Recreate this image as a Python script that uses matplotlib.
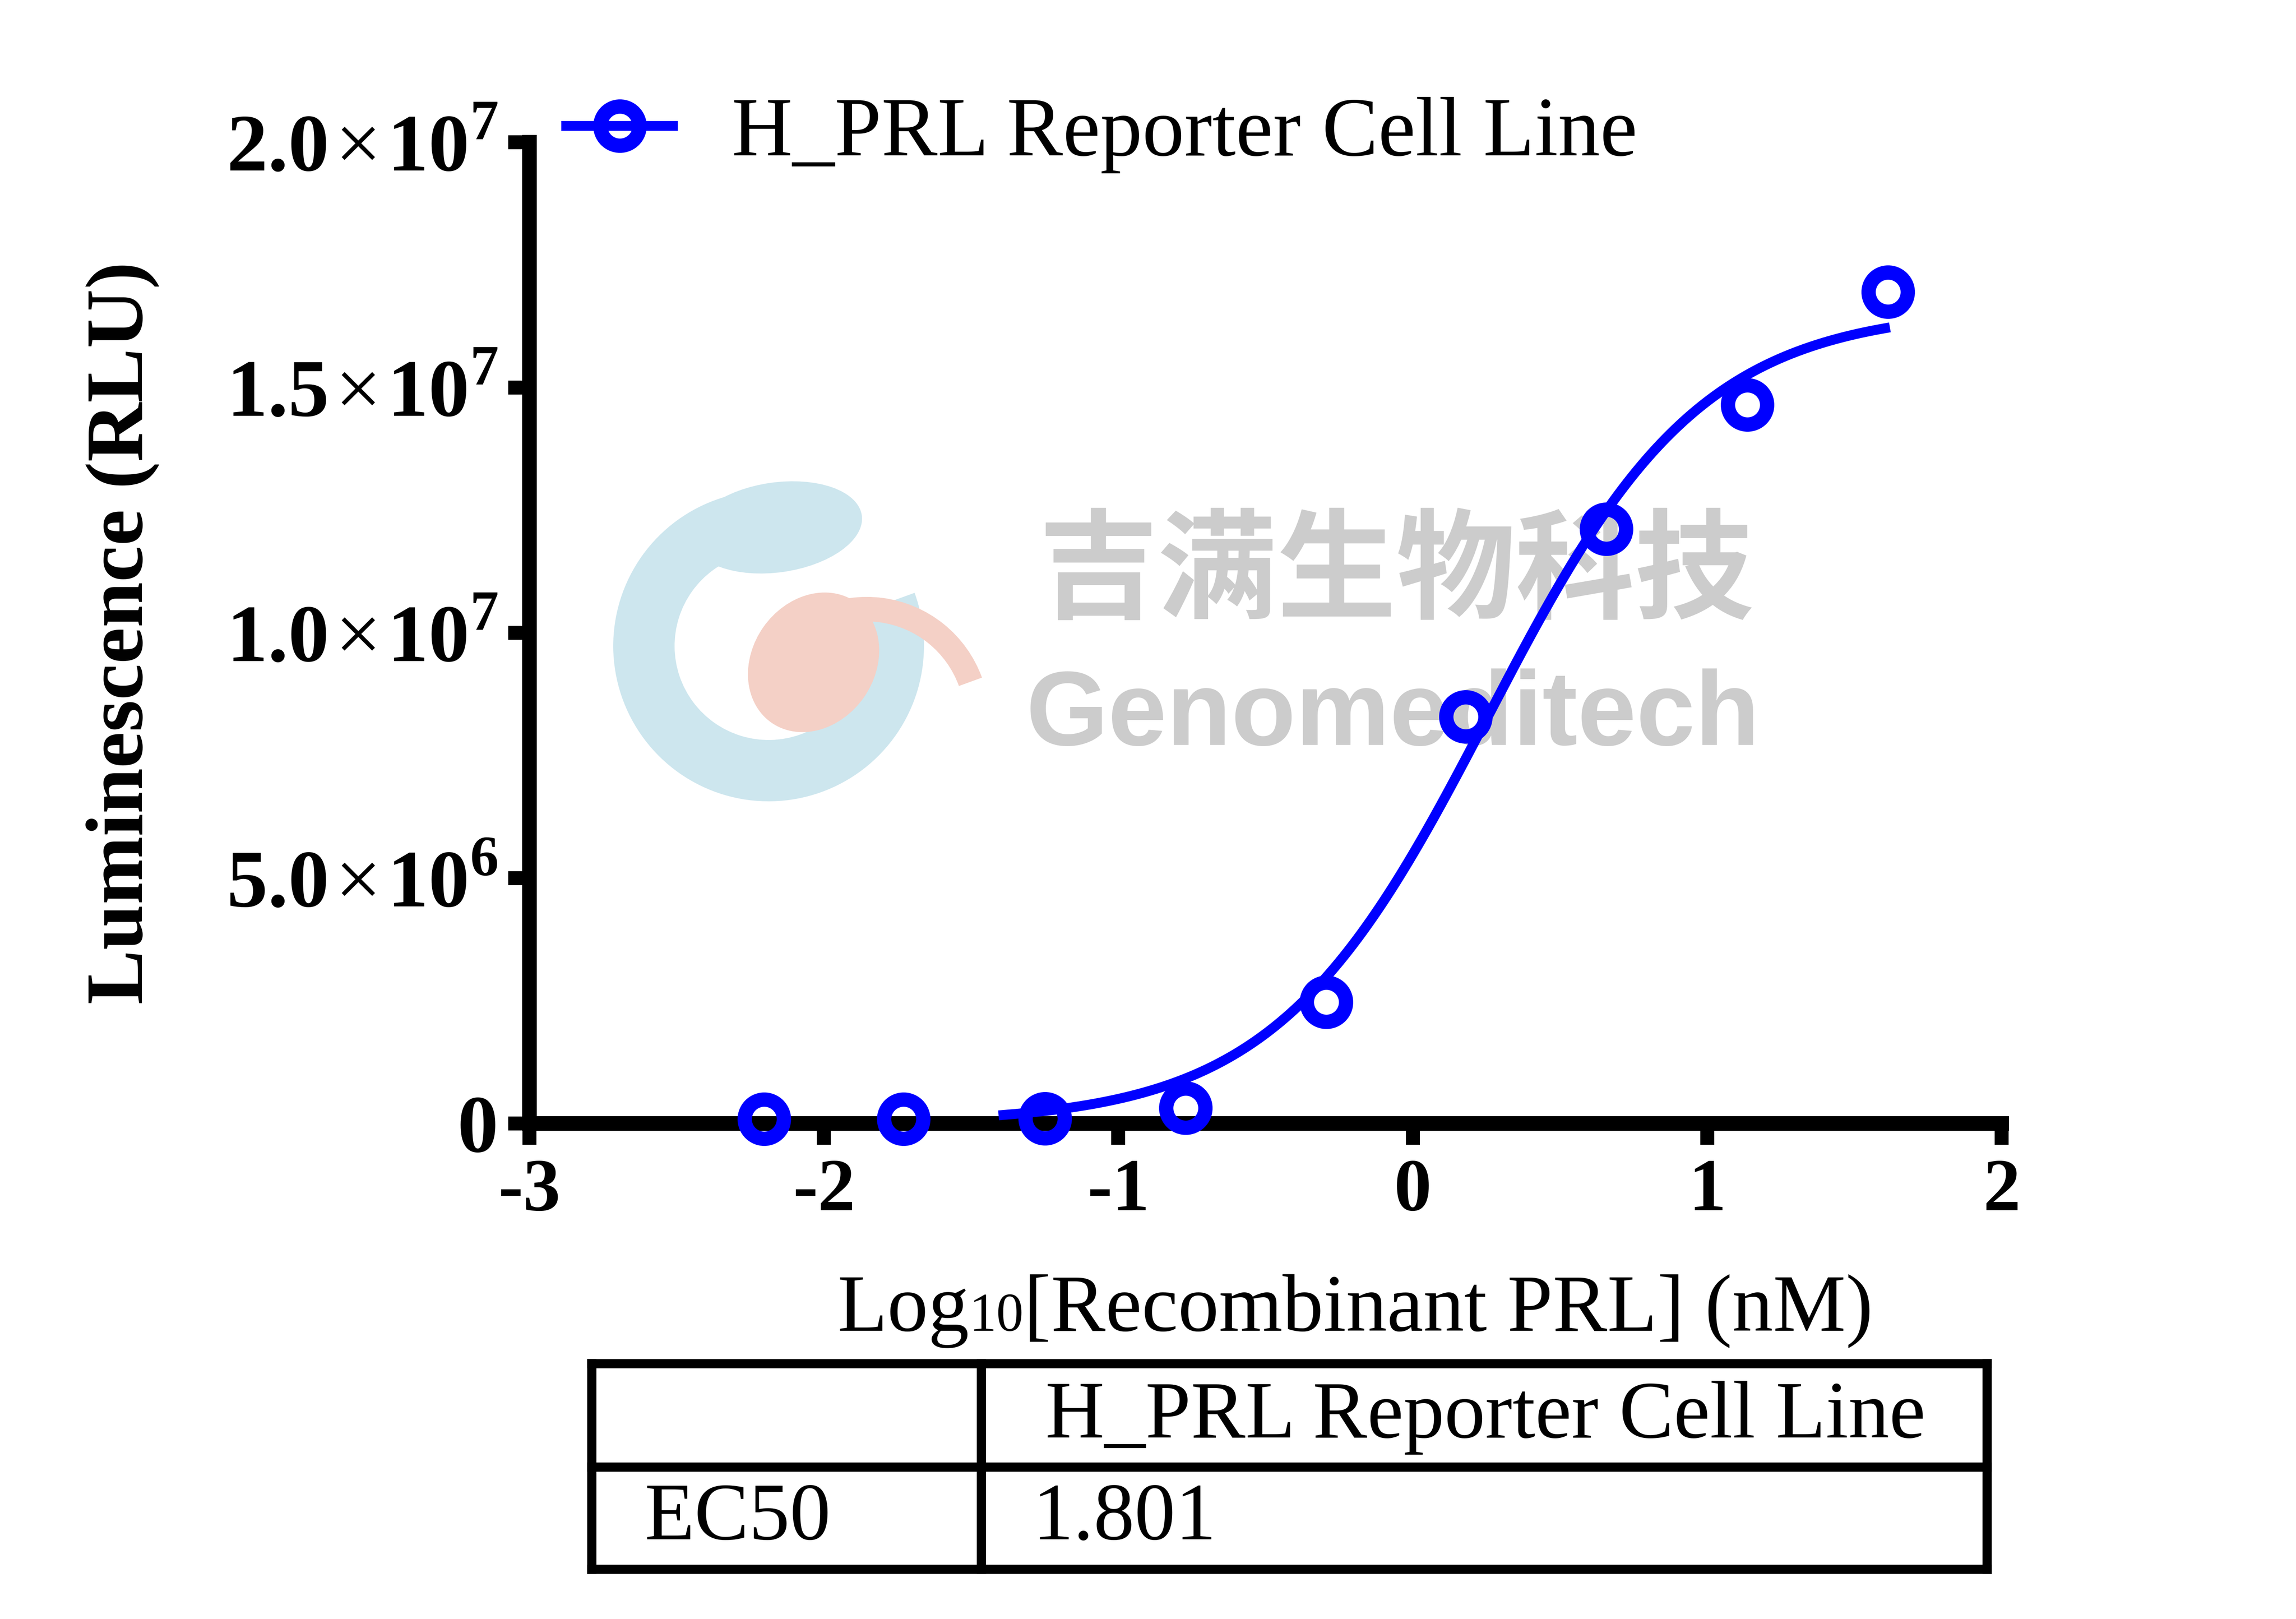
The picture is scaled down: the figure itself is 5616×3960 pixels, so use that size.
import numpy as np
import matplotlib
matplotlib.use("Agg")
import matplotlib.pyplot as plt
from matplotlib.lines import Line2D
from matplotlib.patches import Wedge, Ellipse

plt.rcParams['font.family'] = ['Liberation Serif', 'DejaVu Serif']
plt.rcParams['mathtext.fontset'] = 'custom'
plt.rcParams['mathtext.rm'] = 'Liberation Serif'
plt.rcParams['mathtext.bf'] = 'Liberation Serif:bold'

# data
log_conc = [-2.203, -1.729, -1.249, -0.772, -0.2945, 0.180, 0.658, 1.136, 1.614]
rlu = [9.3e4, 9.0e4, 9.6e4, 3.19e5, 2.475e6, 8.29e6, 1.212e7, 1.465e7, 1.695e7]

# 4PL fit parameters (EC50 as reported in the table)
fit_bottom = 0.0
fit_top = 1.66e7
fit_hill = 1.2
fit_ec50 = 1.801
fit_x_range = (-1.39, 1.604)

series_name = 'H_PRL Reporter Cell Line'
x_ticks = [-3, -2, -1, 0, 1, 2]
x_tick_labels = ['-3', '-2', '-1', '0', '1', '2']
y_ticks = [0, 5e6, 1e7, 1.5e7, 2e7]
y_mantissa = ['5.0', '1.0', '1.5', '2.0']
y_exponent = ['6', '7', '7', '7']
y_tick_labels = ['0'] + [
    r'$\mathbf{%s}\hspace{0.08}\mathrm{\times}\hspace{0.08}\mathbf{10}^{\mathbf{%s}}$' % (m, e)
    for m, e in zip(y_mantissa, y_exponent)]
table_header = ['', 'H_PRL Reporter Cell Line']
table_row = ['EC50', '1.801']

BLUE = '#0000ff'
W, H = 5616, 3960


def fx(px):
    return px / W


def fy(py):
    return 1 - py / H


fig = plt.figure(figsize=(W / 600, H / 600), dpi=600)

# background layer in pixel coordinates (watermark + table)
bg = fig.add_axes([0, 0, 1, 1], zorder=0)
bg.set_xlim(0, W)
bg.set_ylim(H, 0)
bg.axis('off')

# watermark logo (rough)
bg.add_patch(Wedge((1880, 1580), 380, -20, 270, width=150, color='#cde6ee', lw=0))
bg.add_patch(Ellipse((1900, 1290), 420, 220, angle=-8, color='#cde6ee', lw=0))
bg.add_patch(Ellipse((1990, 1620), 300, 360, angle=35, color='#f4d0c6', lw=0))
bg.add_patch(Wedge((2120, 1760), 300, 215, 340, width=60, color='#f4d0c6', lw=0))
bg.text(2540, 1404, '吉满生物科技', fontsize=35, family=['Noto Sans CJK SC', 'DejaVu Sans'],
        fontweight='heavy', color='#cccccc', ha='left', va='center')
bg.text(2509, 1822, 'Genomeditech', fontsize=31, family=['Liberation Sans', 'DejaVu Sans'],
        fontweight='bold', color='#cccccc', ha='left', va='baseline')

# table below the plot
tlw = 2.7
t_left, t_right, t_top, t_mid, t_bot, t_div = 1447, 4860, 3335, 3588, 3838, 2400
for yy in (t_top, t_mid, t_bot):
    bg.plot([t_left, t_right], [yy, yy], color='k', lw=tlw, solid_capstyle='projecting')
for xx in (t_left, t_div, t_right):
    bg.plot([xx, xx], [t_top, t_bot], color='k', lw=tlw, solid_capstyle='projecting')
bg.text(1576, 3516, table_header[0], fontsize=24, va='baseline')
bg.text(2557, 3516, table_header[1], fontsize=24, va='baseline')
bg.text(1576, 3765, table_row[0], fontsize=24, va='baseline')
bg.text(2525, 3765, table_row[1], fontsize=24, va='baseline')

# main plot
ax = fig.add_axes([fx(1295), fy(2748), fx(4896) - fx(1295), (2748 - 348) / H], zorder=1)
ax.set_facecolor('none')

x_fit = np.linspace(fit_x_range[0], fit_x_range[1], 400)
y_fit = fit_bottom + (fit_top - fit_bottom) / (1 + 10 ** ((np.log10(fit_ec50) - x_fit) * fit_hill))
ax.plot(x_fit, y_fit, color=BLUE, lw=2.9, zorder=3, clip_on=False)
ax.plot(log_conc, rlu, 'o', ms=11.5, mew=4.2, mec=BLUE, mfc='none', zorder=4, clip_on=False)

ax.set_xlim(-3, 2)
ax.set_ylim(0, 2e7)
ax.set_xticks(x_ticks, x_tick_labels, fontsize=22, fontweight='bold')
ax.set_yticks(y_ticks, y_tick_labels, fontsize=24, fontweight='bold')
ax.tick_params(axis='both', direction='out', length=6.24, width=4.1)
ax.tick_params(axis='x', pad=4)
ax.tick_params(axis='y', pad=3)
for s in ('top', 'right'):
    ax.spines[s].set_visible(False)
for s in ('left', 'bottom'):
    ax.spines[s].set_linewidth(4.3)

# y label
fig.text(fx(300), fy(1548), 'Luminescence (RLU)', rotation=90, ha='center', va='center',
         fontsize=24, fontweight='bold')

# x label with small "10"
r = fig.canvas.get_renderer()
t1 = fig.text(fx(2048), fy(3255), 'Log', fontsize=24, va='baseline', ha='left')
bb = t1.get_window_extent(r)
t2 = fig.text(bb.x1 / W, fy(3255), '10', fontsize=16, va='baseline', ha='left')
bb = t2.get_window_extent(r)
fig.text(bb.x1 / W, fy(3255), '[Recombinant PRL] (nM)', fontsize=24, va='baseline', ha='left')

# legend
proxy = Line2D([], [], color=BLUE, lw=2.9, marker='o', ms=11.5, mew=4.2, mfc='none')
fig.legend(handles=[proxy], labels=[series_name], loc='center left',
           bbox_to_anchor=(fx(1385), fy(330)), frameon=False, fontsize=24.7,
           handlelength=1.27, handletextpad=0.7, borderpad=0, borderaxespad=0)

fig.savefig('out.png', dpi=600)
